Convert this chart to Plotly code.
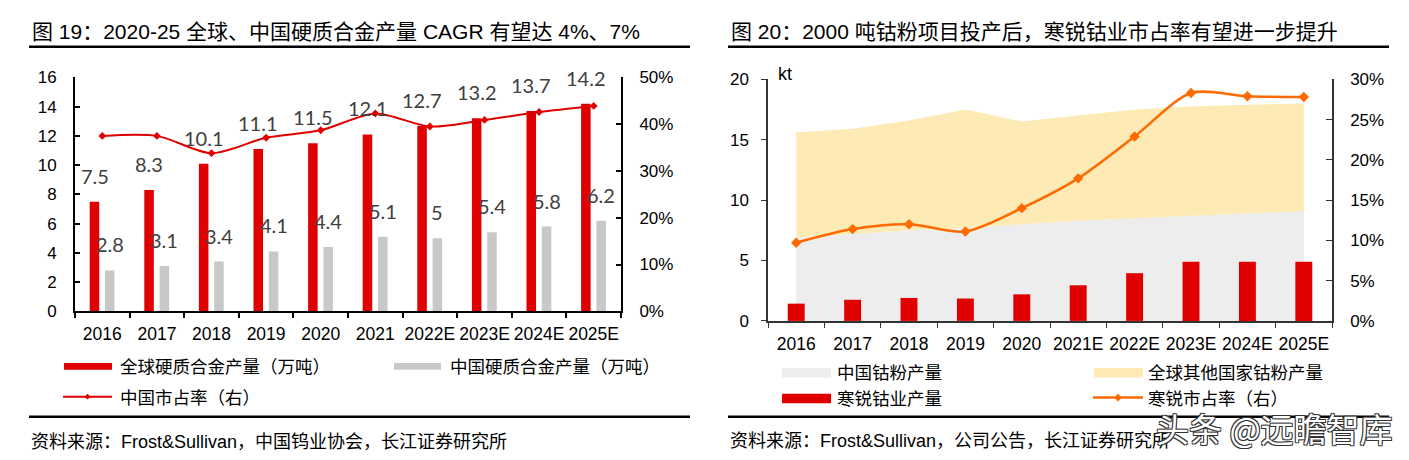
import plotly.graph_objects as go

W, H = 1409, 460

# ---------------- data: left chart ----------------
years_a = ["2016", "2017", "2018", "2019", "2020", "2021", "2022E", "2023E", "2024E", "2025E"]
global_hardmetal = [7.5, 8.3, 10.1, 11.1, 11.5, 12.1, 12.7, 13.2, 13.7, 14.2]
china_hardmetal = [2.8, 3.1, 3.4, 4.1, 4.4, 5.1, 5.0, 5.4, 5.8, 6.2]
china_share = [0.375, 0.375, 0.338, 0.371, 0.387, 0.423, 0.395, 0.409, 0.426, 0.439]

# ---------------- data: right chart ----------------
years_b = ["2016", "2017", "2018", "2019", "2020", "2021E", "2022E", "2023E", "2024E", "2025E"]
china_powder = [6.9, 7.2, 7.5, 7.7, 8.0, 8.3, 8.5, 8.7, 8.9, 9.1]
other_powder = [8.7, 8.7, 9.1, 9.8, 8.5, 8.7, 9.0, 9.05, 9.0, 8.9]
hanrui_output = [1.43, 1.75, 1.9, 1.85, 2.2, 2.95, 3.95, 4.9, 4.9, 4.9]
hanrui_share = [0.097, 0.114, 0.120, 0.111, 0.140, 0.177, 0.229, 0.283, 0.279, 0.278]

RED = "#E00000"
GREY = "#C8C8C8"
CHINA_FILL = "#EDEDED"
OTHER_FILL = "#FDEAB4"
ORANGE = "#FF6A00"
LATIN_CJK = "Liberation Sans, Arial, Noto Sans CJK SC"


def px(x):
    return x / W


def py(y):
    return 1 - y / H


fig = go.Figure()

# left chart traces
fig.add_trace(go.Bar(x=years_a, y=global_hardmetal, xaxis="x", yaxis="y",
                     marker=dict(color=RED, line=dict(width=0)), width=0.175, offset=-0.231,
                     showlegend=False, name="全球硬质合金产量（万吨）"))
fig.add_trace(go.Bar(x=years_a, y=china_hardmetal, xaxis="x", yaxis="y",
                     marker=dict(color=GREY, line=dict(width=0)), width=0.175, offset=0.049,
                     showlegend=False, name="中国硬质合金产量（万吨）"))
fig.add_trace(go.Scatter(x=years_a, y=china_share, xaxis="x", yaxis="y2",
                         mode="lines+markers",
                         line=dict(color=RED, width=2, shape="spline", smoothing=0.8),
                         marker=dict(symbol="diamond", size=6, color=RED),
                         showlegend=False, name="中国市占率（右）"))

# right chart traces
fig.add_trace(go.Scatter(x=years_b, y=china_powder, xaxis="x2", yaxis="y3",
                         stackgroup="s", mode="none", fillcolor=CHINA_FILL,
                         showlegend=False, name="中国钴粉产量"))
fig.add_trace(go.Scatter(x=years_b, y=other_powder, xaxis="x2", yaxis="y3",
                         stackgroup="s", mode="none", fillcolor=OTHER_FILL,
                         showlegend=False, name="全球其他国家钴粉产量"))
fig.add_trace(go.Bar(x=years_b, y=hanrui_output, xaxis="x2", yaxis="y4",
                     marker=dict(color=RED, line=dict(width=0)), width=0.3,
                     showlegend=False, name="寒锐钴业产量"))
fig.add_trace(go.Scatter(x=years_b, y=hanrui_share, xaxis="x2", yaxis="y5",
                         mode="lines+markers",
                         line=dict(color=ORANGE, width=2.5, shape="spline", smoothing=0.8),
                         marker=dict(symbol="diamond", size=8, color=ORANGE),
                         showlegend=False, name="寒锐市占率（右）"))

tickfont = dict(family=LATIN_CJK, size=17, color="#000000")
xtickfont = dict(family=LATIN_CJK, size=17.5, color="#000000")

common_x = dict(type="category", range=[-0.5, 9.5], showline=True, ticks="outside",
                tickson="boundaries", ticklen=5, showgrid=False, zeroline=False,
                tickangle=0, ticklabelstandoff=6, fixedrange=True)
common_y = dict(showline=True, showgrid=False, zeroline=False, fixedrange=True)

fig.update_layout(
    width=W, height=H,
    margin=dict(l=0, r=0, t=0, b=0),
    paper_bgcolor="white", plot_bgcolor="white",
    barmode="overlay",
    showlegend=False,
    xaxis=dict(domain=[px(67), px(613)], anchor="y", linecolor="#000000", linewidth=2,
               tickcolor="#000000", tickwidth=1.5, tickfont=xtickfont, **common_x),
    yaxis=dict(domain=[py(307), py(63)], anchor="x", range=[0, 16], dtick=2,
               linecolor="#000000", linewidth=2, ticks="inside", ticklen=5,
               tickcolor="#000000", tickwidth=1.5, tickfont=tickfont,
               ticklabelstandoff=13, **common_y),
    yaxis2=dict(overlaying="y", side="right", anchor="x", range=[0, 0.5], dtick=0.1,
                tickformat=".0%", linecolor="#000000", linewidth=2, ticks="inside",
                ticklen=5, tickcolor="#000000", tickwidth=1.5, tickfont=tickfont,
                ticklabelstandoff=13, **common_y),
    xaxis2=dict(domain=[px(760), px(1324)], anchor="y3", linecolor="#333333", linewidth=1.5,
                tickcolor="#333333", tickwidth=1.2, tickfont=xtickfont, **common_x),
    yaxis3=dict(domain=[py(317), py(65)], anchor="x2", range=[0, 20], dtick=5,
                linecolor="#333333", linewidth=1.5, ticks="outside", ticklen=5,
                tickcolor="#333333", tickwidth=1.2, tickfont=tickfont,
                ticklabelstandoff=9, **common_y),
    yaxis4=dict(overlaying="y3", anchor="x2", range=[0, 20], visible=False, fixedrange=True),
    yaxis5=dict(overlaying="y3", side="right", anchor="x2", range=[0, 0.3], dtick=0.05,
                tickformat=".0%", linecolor="#333333", linewidth=1.5, ticks="inside",
                ticklen=6, tickcolor="#333333", tickwidth=1.2, tickfont=tickfont,
                ticklabelstandoff=13, **common_y),
)

annotations = []
shapes = []

# data labels on left chart (x given as category index)
label_font = dict(family="Lato, Open Sans, sans-serif", size=20, color="#404040")
for i, v in enumerate(global_hardmetal):
    annotations.append(dict(x=i, y=v, xref="x", yref="y", text=f"{v:g}", showarrow=False,
                            xanchor="center", yanchor="bottom", xshift=-7.8, yshift=12,
                            font=label_font))
for i, v in enumerate(china_hardmetal):
    annotations.append(dict(x=i, y=v, xref="x", yref="y", text=f"{v:g}", showarrow=False,
                            xanchor="center", yanchor="bottom", xshift=7.5, yshift=12,
                            font=label_font))

# unit label
annotations.append(dict(x=px(768), y=py(59), xref="paper", yref="paper", text="kt",
                        showarrow=False, xanchor="left", yanchor="middle",
                        font=dict(family=LATIN_CJK, size=18, color="#000000")))

# titles
title_font = dict(family=LATIN_CJK, size=21, color="#000000")
annotations.append(dict(x=px(22), y=py(15.5), xref="paper", yref="paper",
                        text="图 19：2020-25 全球、中国硬质合金产量 CAGR 有望达 4%、7%",
                        showarrow=False, xanchor="left", yanchor="middle", font=title_font))
annotations.append(dict(x=px(721), y=py(15.5), xref="paper", yref="paper",
                        text="图 20：2000 吨钴粉项目投产后，寒锐钴业市占率有望进一步提升",
                        showarrow=False, xanchor="left", yanchor="middle", font=title_font))

# rules
for x0, x1 in [(21, 682), (720, 1381)]:
    shapes.append(dict(type="line", xref="paper", yref="paper", x0=px(x0), x1=px(x1),
                       y0=py(31), y1=py(31), line=dict(color="#000000", width=2.5)))
    shapes.append(dict(type="line", xref="paper", yref="paper", x0=px(x0), x1=px(x1),
                       y0=py(417), y1=py(417), line=dict(color="#000000", width=2.5)))

# sources
source_font = dict(family=LATIN_CJK, size=18, color="#000000")
annotations.append(dict(x=px(21), y=py(443), xref="paper", yref="paper",
                        text="资料来源：Frost&Sullivan，中国钨业协会，长江证券研究所",
                        showarrow=False, xanchor="left", yanchor="middle", font=source_font))
annotations.append(dict(x=px(720), y=py(442), xref="paper", yref="paper",
                        text="资料来源：Frost&Sullivan，公司公告，长江证券研究所",
                        showarrow=False, xanchor="left", yanchor="middle", font=source_font))

# legends
legend_font = dict(family=LATIN_CJK, size=17.5, color="#000000")


def rect(x0, x1, y0, y1, color):
    shapes.append(dict(type="rect", xref="paper", yref="paper", x0=px(x0), x1=px(x1),
                       y0=py(y1), y1=py(y0), fillcolor=color, line=dict(width=0)))


def linesym(x0, x1, y, color, width, dsize):
    shapes.append(dict(type="line", xref="paper", yref="paper", x0=px(x0), x1=px(x1),
                       y0=py(y), y1=py(y), line=dict(color=color, width=width)))
    cx = (x0 + x1) / 2
    path = (f"M {px(cx - dsize)} {py(y)} L {px(cx)} {py(y - dsize)} "
            f"L {px(cx + dsize)} {py(y)} L {px(cx)} {py(y + dsize)} Z")
    shapes.append(dict(type="path", xref="paper", yref="paper", path=path,
                       fillcolor=color, line=dict(width=0)))


def ltext(x, y, t):
    annotations.append(dict(x=px(x), y=py(y), xref="paper", yref="paper", text=t,
                            showarrow=False, xanchor="left", yanchor="middle", font=legend_font))


rect(56, 104, 361, 368, RED)
ltext(110, 365.5, "全球硬质合金产量（万吨）")
rect(386, 433, 361, 368, GREY)
ltext(440, 365.5, "中国硬质合金产量（万吨）")
linesym(55, 104, 396, RED, 2, 3)
ltext(110, 397.5, "中国市占率（右）")

rect(774, 823, 366, 376, CHINA_FILL)
ltext(827, 371.5, "中国钴粉产量")
rect(1086, 1135, 366, 376, OTHER_FILL)
ltext(1138, 371.5, "全球其他国家钴粉产量")
rect(774, 823, 393, 403, RED)
ltext(827, 398, "寒锐钴业产量")
linesym(1085, 1135, 397, ORANGE, 2.5, 4)
ltext(1138, 398, "寒锐市占率（右）")

# watermark
annotations.append(dict(x=px(1266), y=py(429), xref="paper", yref="paper",
                        text="头条 @远瞻智库", showarrow=False, xanchor="center", yanchor="middle",
                        font=dict(family="Noto Sans CJK SC", size=33, color="#FFFFFF",
                                  shadow="-1px -1px 0 #333, 1px -1px 0 #333, -1px 1px 0 #333, 1px 1px 0 #333")))

fig.update_layout(annotations=annotations, shapes=shapes)

fig.write_html("out.html")
